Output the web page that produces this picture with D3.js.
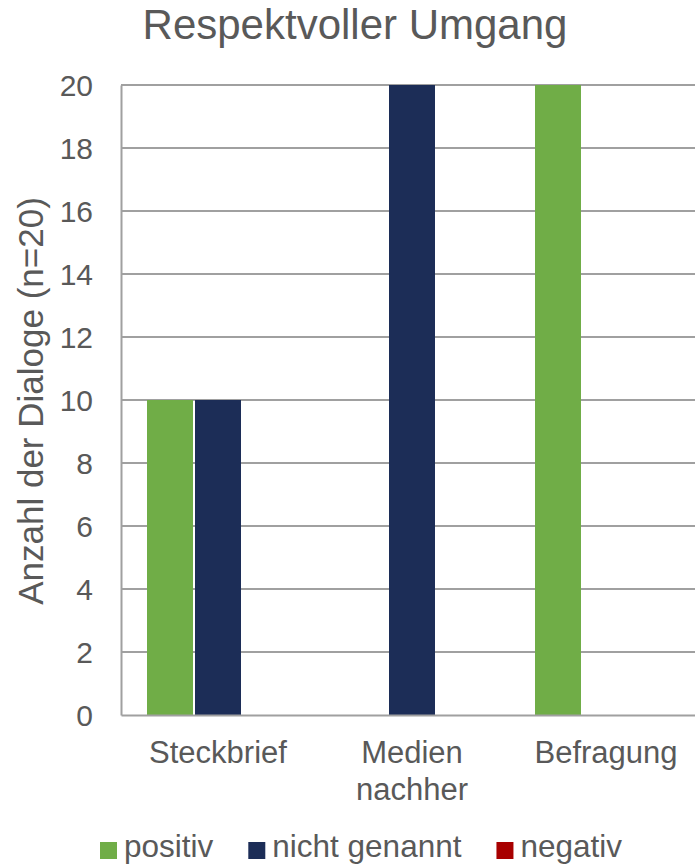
<!DOCTYPE html>
<html>
<head>
<meta charset="utf-8">
<script src="https://cdn.jsdelivr.net/npm/d3@7"></script>
<style>
  body { margin: 0; background: #fff; }
  svg { display: block; font-family: "Liberation Sans", Arial, sans-serif; }
</style>
</head>
<body>
<div id="chart-container"></div>
<script>
const categories = ["Steckbrief", "Medien nachher", "Befragung"];
const seriesNames = ["positiv", "nicht genannt", "negativ"];
const positiv = [10, 0, 20];
const nichtGenannt = [10, 20, 0];
const negativ = [0, 0, 0];
const yTicks = [0, 2, 4, 6, 8, 10, 12, 14, 16, 18, 20];
const colors = ["#70AD47", "#1C2D57", "#A80000"];

const width = 695;
const height = 867;
const plot = { left: 121, right: 703, top: 85, bottom: 715 };
const textColor = "#595959";
const gridColor = "#A0A0A0";

const values = [positiv, nichtGenannt, negativ];
const rows = categories.map((c, i) => ({
  category: c,
  values: seriesNames.map((s, j) => ({ series: s, value: values[j][i] })),
}));

const svg = d3
  .select("#chart-container")
  .append("svg")
  .attr("width", width)
  .attr("height", height);

const x0 = d3.scaleBand().domain(categories).range([plot.left, plot.right]).padding(0);
const x1 = d3
  .scaleBand()
  .domain(seriesNames)
  .range([26, 26 + 142])
  .paddingInner(2 / 48);
const y = d3.scaleLinear().domain([0, 20]).range([plot.bottom, plot.top]);
const color = d3.scaleOrdinal().domain(seriesNames).range(colors);

// gridlines
svg
  .append("g")
  .selectAll("line")
  .data(yTicks.filter((d) => d > 0))
  .join("line")
  .attr("x1", plot.left)
  .attr("x2", plot.right)
  .attr("y1", (d) => y(d))
  .attr("y2", (d) => y(d))
  .attr("stroke", gridColor)
  .attr("stroke-width", 2);

// bars
svg
  .append("g")
  .selectAll("g")
  .data(rows)
  .join("g")
  .attr("transform", (d) => `translate(${x0(d.category)},0)`)
  .selectAll("rect")
  .data((d) => d.values)
  .join("rect")
  .attr("x", (d) => x1(d.series))
  .attr("y", (d) => y(d.value))
  .attr("width", x1.bandwidth())
  .attr("height", (d) => y(0) - y(d.value))
  .attr("fill", (d) => color(d.series));

// y axis
const yAxis = svg
  .append("g")
  .attr("transform", `translate(${plot.left},0)`)
  .call(d3.axisLeft(y).tickValues(yTicks).tickSize(0).tickPadding(28).tickSizeOuter(0));
yAxis.select(".domain").attr("stroke", gridColor).attr("stroke-width", 2);
yAxis
  .selectAll("text")
  .attr("fill", textColor)
  .style("font-size", "30px")
  .attr("dy", "0.36em");

// x axis
const xAxis = svg
  .append("g")
  .attr("transform", `translate(0,${plot.bottom})`)
  .call(d3.axisBottom(x0).tickSize(0).tickSizeOuter(0));
xAxis.select(".domain").attr("stroke", gridColor).attr("stroke-width", 2);
xAxis.selectAll("text").each(function (d) {
  const t = d3.select(this);
  t.text(null)
    .attr("y", 48)
    .attr("dy", 0)
    .attr("fill", textColor)
    .style("font-size", "31px");
  const lines = d === "Medien nachher" ? ["Medien", "nachher"] : [d];
  lines.forEach((line, i) => {
    t.append("tspan").attr("x", 0).attr("dy", i === 0 ? 0 : 37).text(line);
  });
});

// title
svg
  .append("text")
  .attr("x", 355)
  .attr("y", 39)
  .attr("text-anchor", "middle")
  .attr("fill", textColor)
  .style("font-size", "42px")
  .text("Respektvoller Umgang");

// y axis title
svg
  .append("text")
  .attr("transform", "translate(43,401) rotate(-90)")
  .attr("text-anchor", "middle")
  .attr("fill", textColor)
  .style("font-size", "35px")
  .text("Anzahl der Dialoge (n=20)");

// legend
const legend = svg.append("g");
let lx = 100;
seriesNames.forEach((s) => {
  legend
    .append("rect")
    .attr("x", lx)
    .attr("y", 842)
    .attr("width", 17)
    .attr("height", 17)
    .attr("fill", color(s));
  const t = legend
    .append("text")
    .attr("x", lx + 24)
    .attr("y", 857)
    .attr("fill", textColor)
    .style("font-size", "31.5px")
    .text(s);
  lx += 24 + t.node().getComputedTextLength() + 35;
});
</script>
</body>
</html>
